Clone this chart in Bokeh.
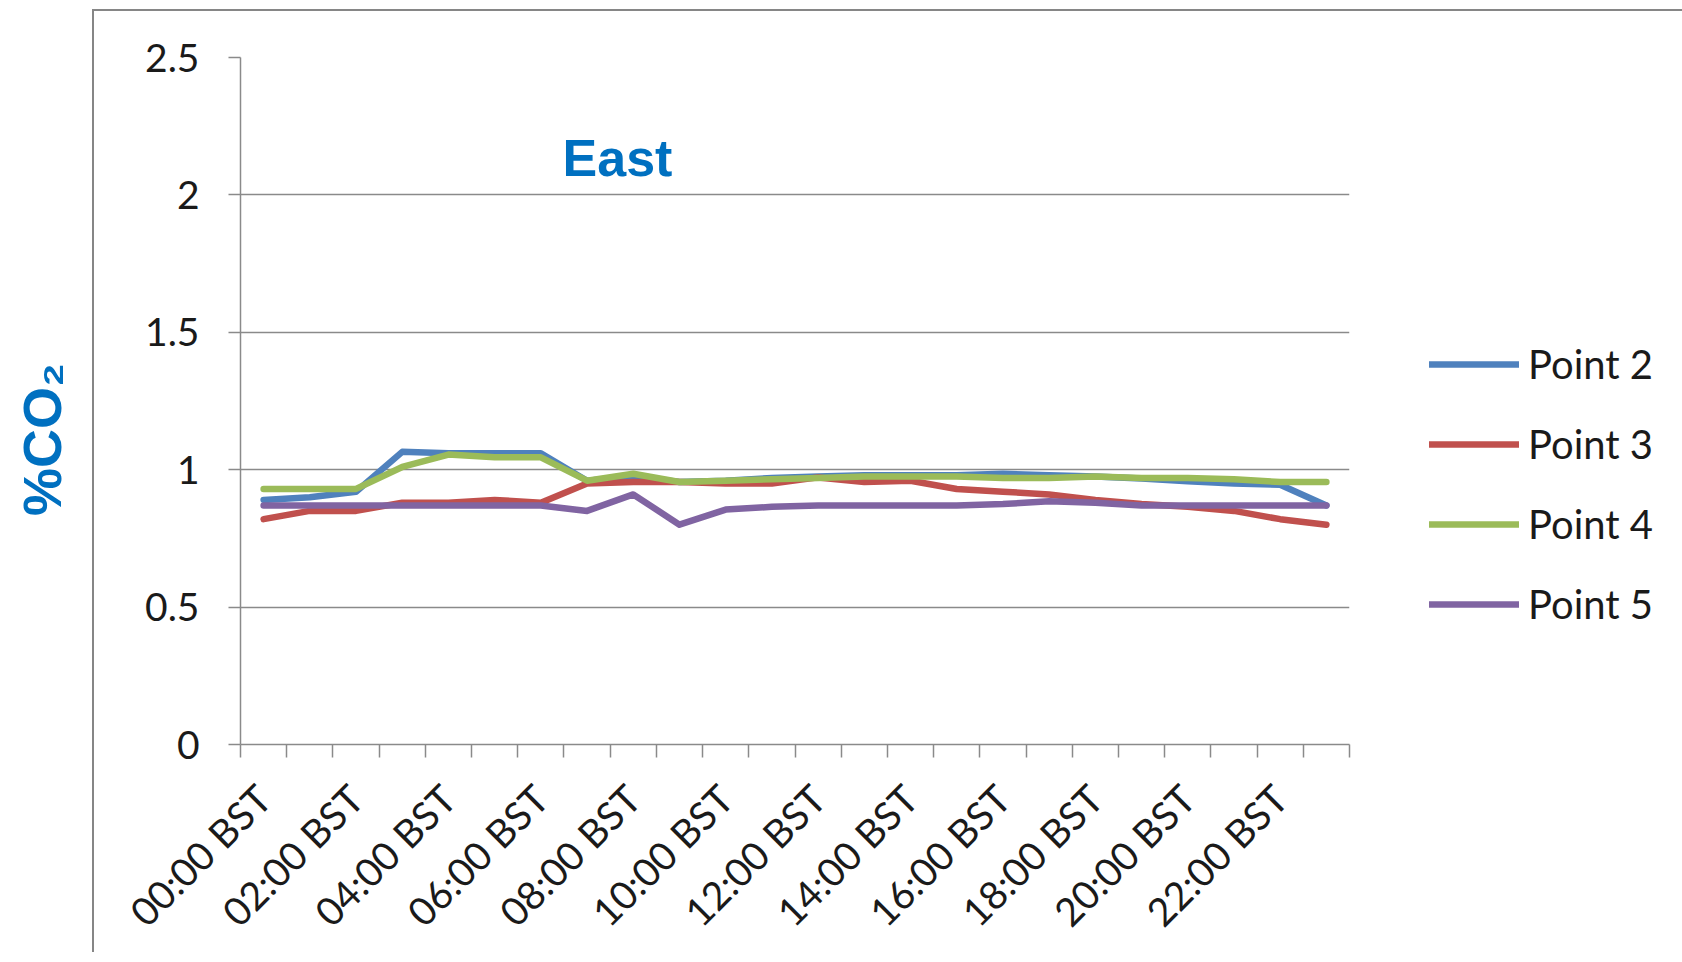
import math
import numpy as np
from bokeh.plotting import figure
from bokeh.layouts import row
from bokeh.models import FixedTicker, Legend, LegendItem, Label, ColumnDataSource, Range1d
from bokeh.embed import file_html
from bokeh.resources import INLINE

hours = ["00:00 BST", "01:00 BST", "02:00 BST", "03:00 BST", "04:00 BST", "05:00 BST",
         "06:00 BST", "07:00 BST", "08:00 BST", "09:00 BST", "10:00 BST", "11:00 BST",
         "12:00 BST", "13:00 BST", "14:00 BST", "15:00 BST", "16:00 BST", "17:00 BST",
         "18:00 BST", "19:00 BST", "20:00 BST", "21:00 BST", "22:00 BST", "23:00 BST"]

point2 = [0.89, 0.90, 0.92, 1.065, 1.06, 1.06, 1.06, 0.96, 0.975, 0.955, 0.96, 0.97,
          0.975, 0.98, 0.98, 0.98, 0.985, 0.98, 0.975, 0.968, 0.958, 0.95, 0.945, 0.87]
point3 = [0.82, 0.85, 0.85, 0.88, 0.88, 0.89, 0.88, 0.95, 0.955, 0.955, 0.95, 0.95,
          0.972, 0.955, 0.96, 0.93, 0.92, 0.91, 0.89, 0.875, 0.865, 0.85, 0.82, 0.80]
point4 = [0.93, 0.93, 0.93, 1.01, 1.055, 1.045, 1.045, 0.96, 0.985, 0.955, 0.96, 0.965,
          0.97, 0.975, 0.975, 0.975, 0.97, 0.97, 0.975, 0.97, 0.97, 0.965, 0.955, 0.955]
point5 = [0.87, 0.87, 0.87, 0.87, 0.87, 0.87, 0.87, 0.85, 0.91, 0.80, 0.855, 0.865,
          0.87, 0.87, 0.87, 0.87, 0.875, 0.885, 0.88, 0.87, 0.87, 0.87, 0.87, 0.87]

series_names = ["Point 2", "Point 3", "Point 4", "Point 5"]
series_colors = ["#4F81BD", "#C0504D", "#9BBB59", "#8064A2"]
y_ticks = [0, 0.5, 1, 1.5, 2, 2.5]
y_tick_labels = ["0", "0.5", "1", "1.5", "2", "2.5"]

TOTAL_H = 946
LEFT_W = 92          # strip holding the %CO2 label, outside the chart-area box
BOX_TOP = 9          # chart-area box top (margin) ; border 2px
BORDER = 2
FRAME_L, FRAME_T, FRAME_R, FRAME_B = 240, 58, 1347, 743

main_top = BOX_TOP + BORDER
main_left = LEFT_W + BORDER
mb_left = FRAME_L - main_left
mb_top = FRAME_T - main_top - 1
frame_w = FRAME_R - FRAME_L
frame_h = FRAME_B - FRAME_T
mb_bottom = TOTAL_H - main_top - mb_top - frame_h - 2

p = figure(frame_width=frame_w, frame_height=frame_h,
           output_backend="svg", toolbar_location=None,
           x_range=Range1d(0, len(hours)), y_range=Range1d(0, 2.5),
           min_border_left=mb_left, min_border_right=0,
           min_border_top=mb_top, min_border_bottom=mb_bottom,
           styles={"border-left": f"{BORDER}px solid #868686",
                   "border-top": f"{BORDER}px solid #868686",
                   "margin-top": f"{BOX_TOP}px"})
p.outline_line_color = None
p.background_fill_color = "white"
p.border_fill_color = "white"

xs = np.arange(len(hours)) + 0.5
src = ColumnDataSource(dict(x=xs, p2=point2, p3=point3, p4=point4, p5=point5))

renderers = []
for col, color in zip(["p2", "p3", "p4", "p5"], series_colors):
    r = p.line("x", col, source=src, line_color=color, line_width=6.5,
               line_cap="round", line_join="round")
    renderers.append(r)

p.xgrid.visible = False
p.ygrid.ticker = FixedTicker(ticks=y_ticks)
p.ygrid.grid_line_color = "#8a8a8a"
p.ygrid.grid_line_width = 1.5

axis_color = "#8a8a8a"
ya = p.yaxis[0]
ya.ticker = FixedTicker(ticks=y_ticks)
ya.major_label_overrides = {t: l for t, l in zip(y_ticks, y_tick_labels)}
ya.axis_line_color = axis_color
ya.axis_line_width = 1.5
ya.major_tick_line_color = axis_color
ya.major_tick_line_width = 1.5
ya.major_tick_out = 12
ya.major_tick_in = 0
ya.minor_tick_line_color = None
ya.major_label_standoff = 29
ya.major_label_text_font = "Lato"
ya.major_label_text_font_size = "39px"
ya.major_label_text_color = "#1a1a1a"

xa = p.xaxis[0]
label_pos = [float(i) + 0.5 for i in range(0, len(hours), 2)]
xa.ticker = FixedTicker(ticks=label_pos, minor_ticks=list(range(len(hours) + 1)))
xa.major_label_overrides = {float(i) + 0.5: hours[i] for i in range(0, len(hours), 2)}
xa.major_label_orientation = math.pi / 4
xa.axis_line_color = axis_color
xa.axis_line_width = 1.5
xa.major_tick_line_color = None
xa.major_tick_out = 0
xa.major_tick_in = 0
xa.minor_tick_line_color = axis_color
xa.minor_tick_line_width = 1.5
xa.minor_tick_out = 13
xa.minor_tick_in = 0
xa.major_label_standoff = 34
xa.major_label_text_font = "Lato"
xa.major_label_text_font_size = "39px"
xa.major_label_text_color = "#1a1a1a"

items = [LegendItem(label=n, renderers=[r]) for n, r in zip(series_names, renderers)]
legend = Legend(items=items, location=(80, 116), orientation="vertical",
                glyph_width=90, glyph_height=40, label_height=40, spacing=32,
                label_standoff=9, padding=0, margin=0,
                border_line_color=None, background_fill_alpha=0,
                label_text_font="Lato", label_text_font_size="40px",
                label_text_color="#1a1a1a")
p.add_layout(legend, "right")

title = Label(x=617 - FRAME_L, y=FRAME_B - 175 + 19, x_units="screen", y_units="screen",
              text="East", text_font="Liberation Sans", text_font_style="bold",
              text_font_size="52px", text_color="#0070C0", text_align="center",
              text_baseline="alphabetic")
p.add_layout(title)

# left strip with the y-axis title (its frame is aligned with the main frame by the row)
q = figure(width=LEFT_W, height=TOTAL_H, output_backend="svg", toolbar_location=None,
           x_range=Range1d(0, 1), y_range=Range1d(0, 1),
           x_axis_location=None, y_axis_location=None,
           min_border=0, min_border_left=0, min_border_right=0,
           min_border_top=0, min_border_bottom=0)
q.outline_line_color = None
q.xgrid.visible = False
q.ygrid.visible = False
q.border_fill_color = "white"
ylab = Label(x=41, y=297, x_units="screen", y_units="screen",
             text="%CO₂", text_font="Liberation Sans", text_font_style="bold",
             text_font_size="54px", text_color="#0070C0", text_align="center",
             text_baseline="middle", angle=math.pi / 2)
q.add_layout(ylab)

layout = row(q, p, spacing=0)
open("out.html", "w").write(file_html(layout, INLINE))
